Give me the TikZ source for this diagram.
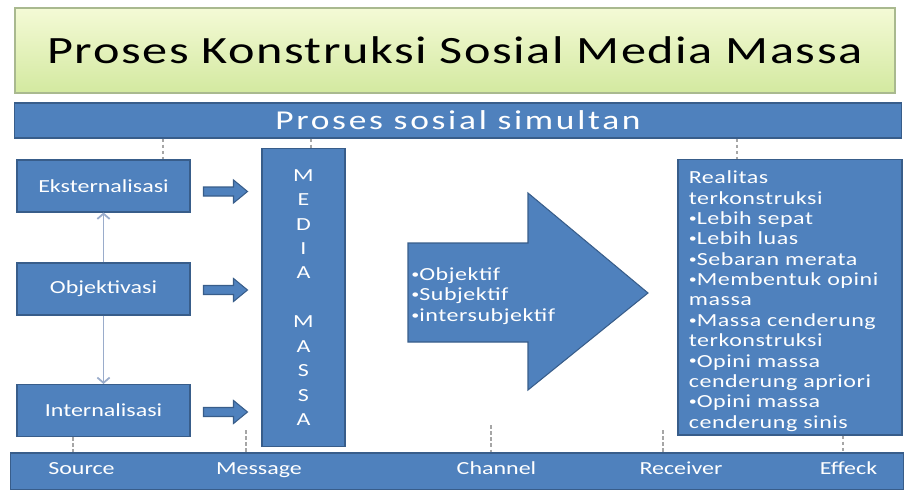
\documentclass[tikz,border=0pt]{standalone}
\usepackage{fontspec}
\setmainfont{Carlito}[FakeStretch=1.3]
\newfontfamily\titlefont{Carlito}[FakeStretch=1.3,LetterSpace=4]
\newfontfamily\barfont{Carlito}[FakeStretch=1.3,LetterSpace=10]
\newfontfamily\listfont{Carlito}[FakeStretch=1.3,LetterSpace=3]
\usetikzlibrary{arrows.meta,positioning,calc}
\definecolor{slideblue}{HTML}{4F81BD}
\definecolor{slideedge}{HTML}{385D8A}
\definecolor{titletop}{HTML}{F4FAD6}
\definecolor{titlebot}{HTML}{D3E9A0}
\definecolor{titleedge}{HTML}{A9B98F}
\definecolor{linkgray}{HTML}{9AACCB}
\newcommand{\listdot}{{\fontsize{7}{7}\selectfont\raisebox{1.2pt}{•}}}

\begin{document}
\begin{tikzpicture}[x=0.02cm, y=-0.02cm,
  bluebox/.style={rectangle, draw=slideedge, fill=slideblue, line width=0.6pt,
                  text=white, inner sep=0pt},
  stagebox/.style={bluebox, minimum width=3.46cm, minimum height=1.04cm,
                   font=\fontsize{10.5}{12}\selectfont},
  labeltext/.style={text=white, font=\fontsize{10.5}{12}\selectfont, inner sep=0pt},
  listtext/.style={text=white, font=\listfont\fontsize{10.5}{11.6}\selectfont, inner sep=0pt, align=left},
  pusharrow/.style={draw=slideedge, fill=slideblue, line width=0.6pt},
  tick/.style={gray!70, line width=0.6pt, dash pattern=on 2pt off 1.5pt},
  link/.style={-{Straight Barb[length=3pt,width=7pt]}, linkgray, line width=1pt},
]
\useasboundingbox (0,0) rectangle (904,490);

% header
\node[rectangle, draw=titleedge, line width=1pt, top color=titletop, bottom color=titlebot,
      minimum width=17.6cm, minimum height=1.7cm, font=\titlefont\fontsize{22}{26}\selectfont]
  (title) at (455,50.5) {Proses Konstruksi Sosial Media Massa};
\node[bluebox, minimum width=17.76cm, minimum height=0.7cm, font=\barfont\fontsize{15.5}{19}\selectfont]
  (bar) at (458,120.5) {Proses sosial simultan};

% source side
\node[stagebox] (ekst) at (103.5,186)   {Eksternalisasi};
\node[stagebox] (int)  at (103.5,410.5) {Internalisasi};
\node[stagebox] (obj)  at (103.5,289)   {Objektivasi};
\draw[link] (obj.north) -- (ekst.south);
\draw[link] (obj.south) -- (int.north);

\foreach \s/\dy in {ekst/5.5, obj/1, int/1.5}
  \draw[pusharrow] ($(\s.east)+(13,\dy-4.5)$) -- ++(30,0) -- ++(0,-7) -- ++(14,11.5)
    -- ++(-14,11.5) -- ++(0,-7) -- ++(-30,0) -- cycle;

% media
\node[bluebox, minimum width=1.66cm, minimum height=5.98cm] (media) at (303.5,297.5) {};
\node[labeltext, align=center, font=\fontsize{10.5}{13.9}\selectfont] (medtext) at (media.center)
  {M\\E\\D\\I\\A\\~\\M\\A\\S\\S\\A};

% channel
\draw[pusharrow] (408,243) -- (528,243) -- (528,193) -- (648,293) -- (528,390)
  -- (528,342) -- (408,342) -- cycle;
\node[listtext, anchor=west] (chan) at (411,296)
  {\listdot Objektif\\\listdot Subjektif\\\listdot intersubjektif};

% receiver
\node[bluebox, minimum width=4.48cm, minimum height=5.52cm] (rbox) at (790,297) {};
\node[listtext, anchor=north west] (rtext) at ($(rbox.north west)+(11,12)$)
  {Realitas\\terkonstruksi\\\listdot Lebih sepat\\\listdot Lebih luas\\\listdot Sebaran merata\\
   \listdot Membentuk opini\\massa\\\listdot Massa cenderung\\terkonstruksi\\\listdot Opini massa\\
   cenderung apriori\\\listdot Opini massa\\cenderung sinis};

% bottom strip
\node[bluebox, minimum width=17.88cm, minimum height=0.74cm] (bot) at (457,471.5) {};
\node[labeltext, anchor=base] (src) at (81.5,474)  {Source};
\node[labeltext, anchor=base] (msg) at (259,474)   {Message};
\node[labeltext, anchor=base] (chn) at (496.5,474) {Channel};
\node[labeltext, anchor=base] (rcv) at (681,474)   {Receiver};
\node[labeltext, anchor=base] (eff) at (848.5,474) {Effeck};

% dotted guides
\coordinate (ta) at (163,0);
\coordinate (tb) at (311,0);
\coordinate (tc) at (737,0);
\draw[tick] (bar.south -| ta) -- (ekst.north -| ta);
\draw[tick] (bar.south -| tb) -- (media.north -| tb);
\draw[tick] (bar.south -| tc) -- (rbox.north -| tc);
\coordinate (ba) at (73,0);
\coordinate (bb) at (246,430);
\coordinate (bc) at (491,425);
\coordinate (bd) at (663,430);
\coordinate (be) at (843,0);
\draw[tick] (int.south -| ba) -- (bot.north -| ba);
\draw[tick] (bb) -- (bot.north -| bb);
\draw[tick] (bc) -- (bot.north -| bc);
\draw[tick] (bd) -- (bot.north -| bd);
\draw[tick] (rbox.south -| be) -- (bot.north -| be);
\end{tikzpicture}
\end{document}
